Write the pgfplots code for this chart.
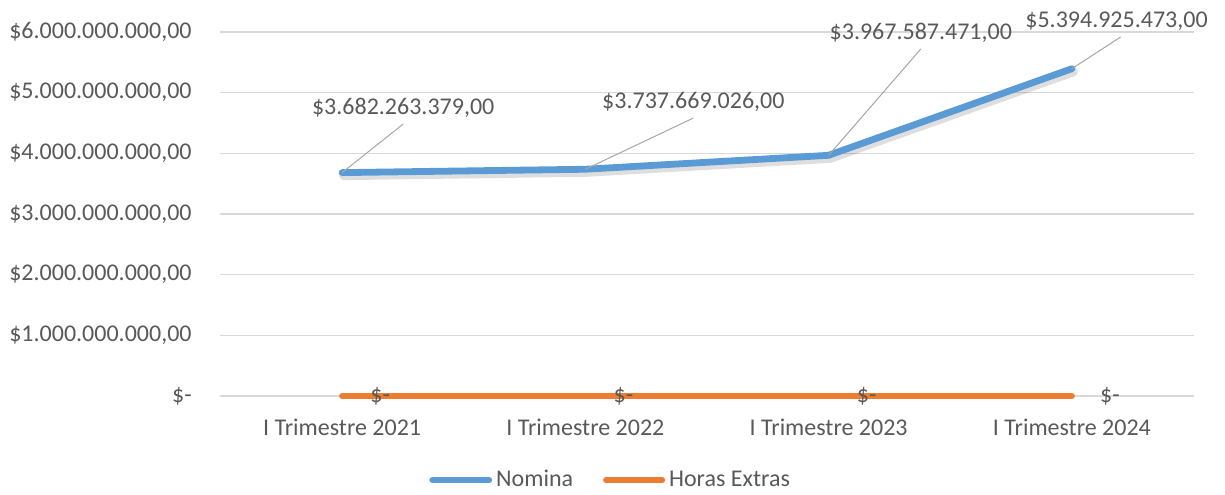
\documentclass[border=0pt]{standalone}
\usepackage{pgfplots}
\pgfplotsset{compat=1.18}
\usepackage{fontspec}
\setmainfont{Carlito}
\definecolor{nomina}{HTML}{5B9BD5}
\definecolor{horas}{HTML}{ED7D31}
\definecolor{txt}{HTML}{595959}
\definecolor{gridc}{HTML}{D9D9D9}
\definecolor{leader}{HTML}{A6A6A6}
\begin{document}
\begin{tikzpicture}
\begin{axis}[
  scale only axis,
  width=486.5pt, height=182pt,
  xmin=-0.5, xmax=3.5,
  ymin=0, ymax=6e9,
  clip=false,
  scaled y ticks=false,
  font=\fontsize{12}{14}\selectfont,
  axis line style={draw=none},
  major tick length=0pt,
  ymajorgrids,
  grid style={gridc, line width=0.6pt},
  xtick={0,1,2,3},
  xticklabels={I Trimestre 2021, I Trimestre 2022, I Trimestre 2023, I Trimestre 2024},
  ytick={0,1e9,2e9,3e9,4e9,5e9,6e9},
  yticklabels={\$-, \$1.000.000.000{,}00, \$2.000.000.000{,}00, \$3.000.000.000{,}00, \$4.000.000.000{,}00, \$5.000.000.000{,}00, \$6.000.000.000{,}00},
  ticklabel style={text=txt, inner sep=0pt},
  xticklabel shift=11.5pt,
  yticklabel shift=14.25pt,
  legend style={draw=none, fill=none, at={(0.402,-0.231)}, anchor=center,
    legend columns=2, font=\fontsize{12}{14}\selectfont, text=txt,
    /tikz/every even column/.append style={column sep=13pt}},
  legend image code/.code={\draw[#1, line cap=round] (0pt,0pt) -- (28pt,0pt);},
]
% shadow of Nomina
\addplot[black, opacity=0.13, line width=4.5pt, line join=round, line cap=round, xshift=0.8pt, yshift=-1.5pt, forget plot]
  coordinates {(0,3682263379) (1,3737669026) (2,3967587471) (3,5394925473)};
\addplot[nomina, line width=3.4pt, line join=round, line cap=round]
  coordinates {(0,3682263379) (1,3737669026) (2,3967587471) (3,5394925473)};
\addlegendentry{Nomina}
\addplot[horas, line width=3pt, line cap=round,
  nodes near coords={\$-},
  every node near coord/.append style={anchor=center, xshift=19pt, yshift=0pt, text=txt, inner sep=0pt, font=\fontsize{12}{14}\selectfont}]
  coordinates {(0,0) (1,0) (2,0) (3,0)};
\addlegendentry{Horas Extras}
% data labels with leader lines
\draw[leader, line width=0.5pt] (axis cs:0,3682263379) -- (axis cs:0.251,4.483e9)
  node[anchor=south, text=txt, inner sep=2pt, yshift=1pt] {\$3.682.263.379,00};
\draw[leader, line width=0.5pt] (axis cs:1,3737669026) -- (axis cs:1.444,4.582e9)
  node[anchor=south, text=txt, inner sep=2pt, yshift=1pt] {\$3.737.669.026,00};
\draw[leader, line width=0.5pt] (axis cs:2,3967587471) -- (axis cs:2.379,5.72e9)
  node[anchor=south, text=txt, inner sep=2pt, yshift=1pt] {\$3.967.587.471,00};
\draw[leader, line width=0.5pt] (axis cs:3,5394925473) -- (axis cs:3.2,5.917e9)
  node[anchor=south, text=txt, inner sep=2pt, xshift=-2pt, yshift=1pt] {\$5.394.925.473,00};
\end{axis}
\pgfresetboundingbox
\path[use as bounding box] (-110.25pt,-49pt) rectangle (502.25pt,198pt);
\end{tikzpicture}
\end{document}
